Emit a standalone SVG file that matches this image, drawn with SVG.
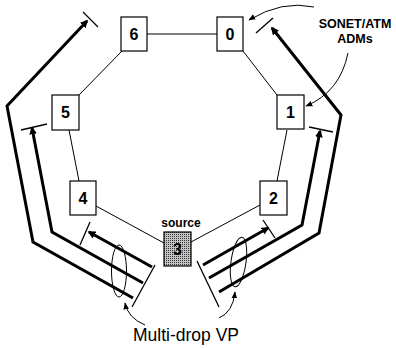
<svg xmlns="http://www.w3.org/2000/svg" width="396" height="348" viewBox="0 0 396 348">
<defs>
<style>
.box{fill:#fff;stroke:#000;stroke-width:1.2}
.num{font-family:"Liberation Sans",Arial,sans-serif;font-weight:bold;font-size:16px;text-anchor:middle}
.ring{fill:none;stroke:#000;stroke-width:1}
.vp{fill:none;stroke:#000;stroke-width:3;stroke-linejoin:miter}
.tick{fill:none;stroke:#000;stroke-width:1.3}
.thin{fill:none;stroke:#000;stroke-width:1}
.lbl{font-family:"Liberation Sans",Arial,sans-serif;font-weight:bold;font-size:12.5px;text-anchor:middle}
</style>
<marker id="ah" viewBox="0 0 10 10" refX="8" refY="5" markerWidth="2.6" markerHeight="2.6" orient="auto" markerUnits="strokeWidth">
<path d="M0,0 L10,5 L0,10 z" fill="#000"/>
</marker>
<marker id="ahs" viewBox="0 0 10 10" refX="9" refY="5" markerWidth="7" markerHeight="7" orient="auto" markerUnits="userSpaceOnUse">
<path d="M0,1 L10,5 L0,9 z" fill="#000"/>
</marker>
<pattern id="dots" width="2" height="2" patternUnits="userSpaceOnUse">
<rect width="2" height="2" fill="#c4c4c4"/>
<rect width="1" height="1" fill="#333"/>
</pattern>
</defs>
<g id="connectors">
<path class="ring" d="M147,34 H217"/>
<path class="ring" d="M243,51 L277,95"/>
<path class="ring" d="M122,51 L79,95"/>
<path class="ring" d="M69,130 L79,181"/>
<path class="ring" d="M287,130 L277,181"/>
<path class="ring" d="M96,206 L164,243"/>
<path class="ring" d="M260,205 L191,242"/>
<path class="vp" d="M152,267 L89,232" marker-end="url(#ah)"/>
<path class="vp" d="M143,283 L52,232 L32,128" marker-end="url(#ah)"/>
<path class="vp" d="M133,298 L33,242 L7,106 L87,21" marker-end="url(#ah)"/>
<path class="vp" d="M203,265 L268,228" marker-end="url(#ah)"/>
<path class="vp" d="M209,278 L302,225 L320,131" marker-end="url(#ah)"/>
<path class="vp" d="M219,292 L319,233 L341,115 L272,28" marker-end="url(#ah)"/>
<path class="tick" d="M83,12 L98,27"/>
<path class="tick" d="M21,130 L47,124"/>
<path class="tick" d="M90,222 L80,245"/>
<path class="tick" d="M155,265 L132,307"/>
<path class="tick" d="M256,33 L273,18"/>
<path class="tick" d="M309,127 L333,132"/>
<path class="tick" d="M263,220 L275,238"/>
<path class="tick" d="M197,261 L219,307"/>
<ellipse class="thin" cx="119" cy="271" rx="7.5" ry="26"/>
<ellipse class="thin" cx="238.5" cy="262" rx="7.5" ry="25" transform="rotate(8 238.5 262)"/>
<path class="thin" d="M145,325 Q128,318 125,303" marker-end="url(#ahs)"/>
<path class="thin" d="M219,318 Q233,312 235,292" marker-end="url(#ahs)"/>
<path class="thin" d="M314,7 Q282,0 249,20" marker-end="url(#ahs)"/>
<path class="thin" d="M348,53 Q340,92 306,106" marker-end="url(#ahs)"/>
</g>
<g id="node6"><rect class="box" x="121" y="17" width="26" height="34"/><text class="num" x="134" y="40">6</text></g>
<g id="node0"><rect class="box" x="217" y="17" width="26" height="34"/><text class="num" x="230" y="40">0</text></g>
<g id="node5"><rect class="box" x="52" y="95" width="27" height="35"/><text class="num" x="65.5" y="118">5</text></g>
<g id="node1"><rect class="box" x="277" y="95" width="27" height="34"/><text class="num" x="290.5" y="118">1</text></g>
<g id="node4"><rect class="box" x="70" y="181" width="26" height="34"/><text class="num" x="83" y="204">4</text></g>
<g id="node2"><rect class="box" x="260" y="181" width="27" height="34"/><text class="num" x="273.5" y="204">2</text></g>
<g id="node3"><rect class="box" x="164" y="232" width="27" height="34" style="fill:url(#dots)"/><text class="num" x="177.5" y="255">3</text>
<text class="lbl" x="181" y="227" style="font-size:12px">source</text></g>
<g id="labels">
<text class="lbl" x="355" y="28">SONET/ATM</text>
<text class="lbl" x="355" y="43">ADMs</text>
<text x="186" y="341" style="font-family:'Liberation Sans',Arial,sans-serif;font-size:17.5px;text-anchor:middle">Multi-drop VP</text>
</g>
</svg>
